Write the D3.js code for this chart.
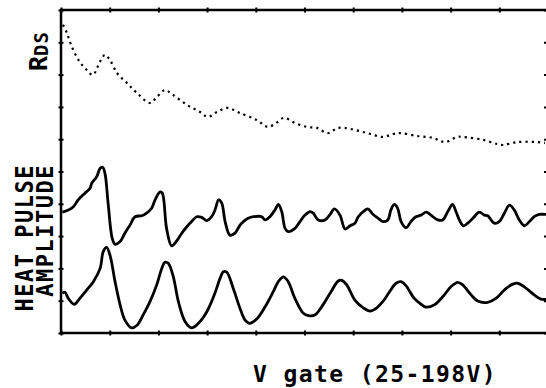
<!DOCTYPE html>
<html>
<head>
<meta charset="utf-8">
<script src="https://cdn.jsdelivr.net/npm/d3@7"></script>
<style>
  body { margin: 0; background: #fff; }
  text { font-family: "DejaVu Sans Mono", monospace; fill: #000; font-weight: bold; }
</style>
</head>
<body>
<div id="chart"></div>
<script>
// gate voltage (V) of each sampled point, and the traces (arbitrary units, 10 divisions full scale)
const rdsV = [25.7, 27.1, 28.9, 31.7, 34.2, 36.3, 38.8, 40.6, 42.4, 44.9, 48.4, 52.0, 56.6, 59.1, 61.9, 64.8,
  69.8, 74.4, 77.2, 80.4, 84.0, 88.6, 94.6, 98.5, 101.4, 104.2, 108.1, 112.4, 115.9, 119.8, 123.4, 127.7,
  133.7, 139.4, 142.9, 145.4, 151.5, 157.2, 161.4, 165.7, 167.8, 174.9, 179.9, 182.0, 187.0, 194.1, 196.9];
const rdsVal = [9.54, 9.29, 8.85, 8.39, 8.14, 7.99, 8.39, 8.61, 8.45, 8.05, 7.74, 7.43, 7.12, 7.31, 7.52, 7.37,
  7.06, 6.84, 6.69, 6.84, 6.97, 6.81, 6.59, 6.38, 6.50, 6.66, 6.50, 6.38, 6.35, 6.19, 6.35, 6.32,
  6.19, 6.07, 6.16, 6.19, 6.10, 6.04, 5.91, 6.07, 6.07, 5.98, 5.85, 5.82, 5.91, 5.91, 5.88];

const pulse1V = [25.5, 27.6, 29.4, 31.1, 33.5, 35.3, 35.9, 37.7, 38.9, 39.8, 40.6, 41.8, 43.2, 44.2, 46.0, 47.7,
  49.5, 51.3, 53.7, 55.4, 57.2, 58.4, 60.2, 61.0, 62.5, 64.3, 66.1, 67.9, 69.7, 71.4, 73.2, 75.0,
  76.8, 78.5, 79.7, 81.0, 82.1, 83.3, 85.0, 86.8, 88.6, 89.8, 91.5, 93.3, 96.3, 97.5, 99.2, 101.0,
  102.2, 103.4, 104.6, 105.7, 108.1, 109.9, 111.7, 113.5, 114.6, 116.4, 118.8, 120.6, 122.1, 124.1,
  125.9, 127.7, 129.4, 130.6, 132.4, 134.0, 135.9, 137.7, 139.4, 141.1, 142.2, 143.4, 144.6, 145.8,
  147.6, 149.3, 151.1, 152.9, 154.7, 156.4, 158.8, 160.6, 162.4, 164.1, 165.3, 166.5, 167.9, 169.5,
  171.3, 173.6, 175.4, 176.6, 178.9, 180.7, 182.5, 184.3, 186.0, 187.8, 189.6, 191.4, 193.1, 194.9, 197.3];
const pulse1Val = [3.74, 3.81, 3.91, 4.12, 4.33, 4.48, 4.63, 4.84, 5.10, 5.13, 4.95, 3.96, 2.93, 2.75, 2.83, 3.09,
  3.34, 3.60, 3.63, 3.71, 3.86, 4.12, 4.37, 4.33, 3.24, 2.70, 2.85, 3.09, 3.29, 3.45, 3.60, 3.58,
  3.48, 3.60, 3.81, 4.12, 4.02, 3.45, 3.03, 3.09, 3.34, 3.45, 3.55, 3.60, 3.60, 3.50, 3.60, 3.81,
  3.98, 3.76, 3.24, 3.14, 3.24, 3.45, 3.65, 3.76, 3.71, 3.50, 3.50, 3.67, 3.84, 3.65,
  3.22, 3.32, 3.40, 3.60, 3.76, 3.84, 3.67, 3.55, 3.45, 3.50, 3.81, 3.98, 3.86, 3.45,
  3.26, 3.45, 3.60, 3.65, 3.74, 3.65, 3.50, 3.50, 3.76, 3.98, 3.76, 3.50, 3.32, 3.40,
  3.55, 3.74, 3.65, 3.63, 3.40, 3.45, 3.71, 3.96, 3.81, 3.50, 3.32, 3.45, 3.60, 3.67, 3.67];

const pulse2V = [25.5, 26.4, 27.6, 29.7, 31.7, 34.1, 36.5, 38.9, 40.0, 41.2, 42.4, 44.2, 46.0, 47.7, 50.1, 51.9,
  54.2, 56.6, 59.0, 60.8, 61.9, 63.1, 64.9, 66.7, 69.1, 71.4, 73.8, 76.8, 79.7, 81.5, 82.7, 83.9,
  86.2, 88.6, 90.4, 92.1, 94.5, 97.5, 100.4, 102.2, 104.0, 105.7, 108.1, 111.1, 112.9, 115.2,
  117.6, 120.6, 123.5, 124.7, 126.5, 129.4, 132.4, 134.8, 137.2, 139.3, 141.6, 144.0, 145.8,
  147.6, 150.5, 152.9, 154.7, 157.6, 160.6, 163.5, 165.9, 167.7, 170.7, 173.0, 176.6, 179.5,
  182.5, 184.9, 187.2, 189.6, 193.1, 195.5, 197.3];
const pulse2Val = [1.23, 1.26, 1.07, 0.89, 1.07, 1.33, 1.59, 2.00, 2.52, 2.65, 2.41, 1.59, 0.87, 0.40, 0.16, 0.23,
  0.56, 0.97, 1.49, 2.00, 2.19, 2.16, 1.74, 0.97, 0.35, 0.16, 0.30, 0.66, 1.24, 1.69, 1.90, 1.88,
  1.38, 0.76, 0.40, 0.30, 0.43, 0.81, 1.28, 1.59, 1.74, 1.59, 1.07, 0.61, 0.54, 0.56,
  0.81, 1.23, 1.61, 1.63, 1.49, 1.02, 0.78, 0.68, 0.78, 0.97, 1.26, 1.54, 1.59,
  1.46, 1.07, 0.89, 0.80, 0.87, 1.12, 1.43, 1.57, 1.49, 1.18, 0.99, 0.95, 1.07,
  1.33, 1.49, 1.54, 1.43, 1.18, 1.05, 1.04];

const xTicks = [25, 42.3, 59.6, 76.9, 94.2, 111.5, 128.8, 146.1, 163.4, 180.7, 198];
const yTicks = [0, 1, 2, 3, 4, 5, 6, 7, 8, 9, 10];

const width = 546, height = 388;
const margin = { top: 10, left: 61, right: -2, bottom: 55 };

const svg = d3.select("#chart").append("svg")
  .attr("width", width)
  .attr("height", height);

const x = d3.scaleLinear().domain([25, 198]).range([margin.left, width - margin.right]);
const y = d3.scaleLinear().domain([0, 10]).range([height - margin.bottom, margin.top]);

// frame
svg.append("rect")
  .attr("x", x(25)).attr("y", y(10))
  .attr("width", x(198) - x(25)).attr("height", y(0) - y(10))
  .attr("fill", "none").attr("stroke", "#000").attr("stroke-width", 2.5);

// little tick marks crossing the frame
function ticks(axis, tx, ty, size) {
  const g = svg.append("g")
    .attr("transform", `translate(${tx},${ty})`)
    .call(axis.tickSize(size).tickFormat(""));
  g.select(".domain").remove();
  g.selectAll(".tick line").attr("stroke", "#000").attr("stroke-width", 2);
}
ticks(d3.axisTop(x).tickValues(xTicks), 0, y(10), 2.5);
ticks(d3.axisBottom(x).tickValues(xTicks), 0, y(10), 2.5);
ticks(d3.axisTop(x).tickValues(xTicks), 0, y(0), 2.5);
ticks(d3.axisBottom(x).tickValues(xTicks), 0, y(0), 2.5);
ticks(d3.axisLeft(y).tickValues(yTicks), x(25), 0, 2.5);
ticks(d3.axisRight(y).tickValues(yTicks), x(25), 0, 2.5);
ticks(d3.axisLeft(y).tickValues(yTicks), x(198), 0, 4);

const line = d3.line()
  .x(d => x(d[0]))
  .y(d => y(d[1]))
  .curve(d3.curveCatmullRom);

// R_DS dotted trace
svg.append("path")
  .attr("d", line(d3.zip(rdsV, rdsVal)))
  .attr("fill", "none")
  .attr("stroke", "#000")
  .attr("stroke-width", 2.2)
  .attr("stroke-dasharray", "2.2,4");

// heat pulse traces
[[pulse1V, pulse1Val], [pulse2V, pulse2Val]].forEach(s => {
  svg.append("path")
    .attr("d", line(d3.zip(s[0], s[1])))
    .attr("fill", "none")
    .attr("stroke", "#000")
    .attr("stroke-width", 2.8)
    .attr("stroke-linejoin", "round");
});

// labels
svg.append("text")
  .attr("x", 253).attr("y", 382)
  .style("font-size", "23px")
  .style("letter-spacing", "1.4px")
  .text("V gate (25-198V)");

svg.append("text")
  .attr("transform", "translate(33,164) rotate(-90) scale(1,1.12)")
  .attr("text-anchor", "end")
  .style("font-size", "22px")
  .style("letter-spacing", "1.5px")
  .text("HEAT PULSE");

svg.append("text")
  .attr("transform", "translate(53,164) rotate(-90) scale(1,1.05)")
  .attr("text-anchor", "end")
  .style("font-size", "22px")
  .style("letter-spacing", "1.5px")
  .text("AMPLITUDE");

const rds = svg.append("text")
  .attr("transform", "translate(47,71) rotate(-90)")
  .style("font-size", "25px");
rds.append("tspan").text("R");
rds.append("tspan")
  .attr("dy", 1)
  .style("font-size", "19px")
  .style("letter-spacing", "1px")
  .text("DS");
</script>
</body>
</html>
